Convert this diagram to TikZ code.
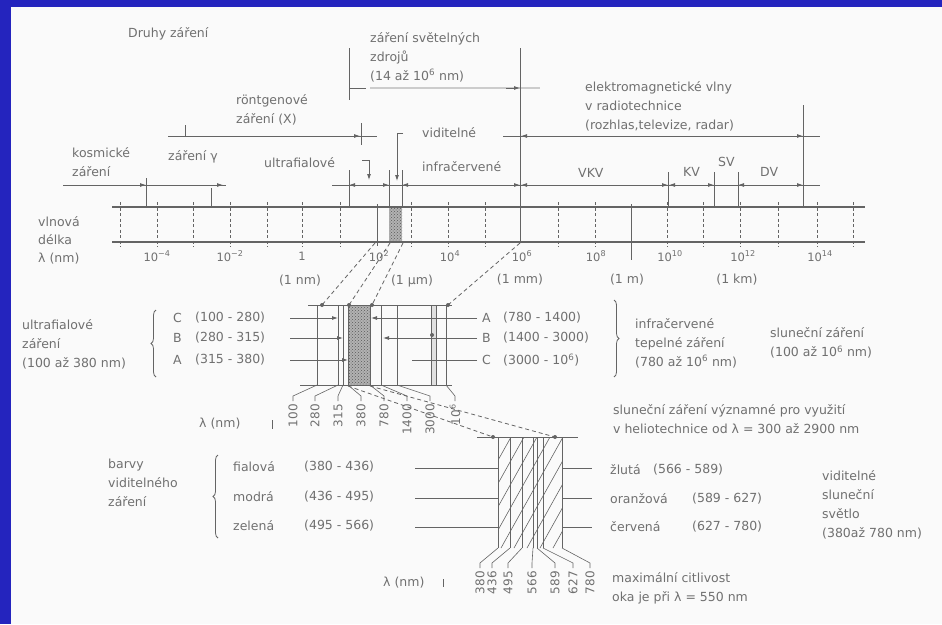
\documentclass[tikz,border=0pt]{standalone}
\usepackage{fontspec}
\setmainfont{DejaVu Sans}
\usetikzlibrary{arrows.meta,decorations.pathreplacing,patterns}
\definecolor{frameblue}{RGB}{36,36,190}
\definecolor{bg}{RGB}{250,250,250}
\definecolor{ink}{RGB}{100,100,100}
\definecolor{txt}{RGB}{112,112,112}
\newcommand{\tp}[1]{\textsuperscript{#1}}
\begin{document}
\begin{tikzpicture}[x=1pt,y=-1pt,
  lbl/.style={font=\fontsize{12.5}{19}\selectfont, text=txt, inner sep=0pt, align=left, anchor=west},
  lblc/.style={lbl, anchor=center, align=center},
  rot/.style={font=\fontsize{12}{14}\selectfont, text=txt, inner sep=0pt, rotate=90, anchor=east},
  ln/.style={draw=ink, line width=0.8pt},
  thin/.style={draw=ink, line width=0.6pt},
  arr/.style={-{Latex[length=6pt,width=4pt]}},
  dsh/.style={draw=ink, line width=0.8pt, dash pattern=on 4pt off 3pt},
  tick/.style={draw=ink, line width=0.6pt, dash pattern=on 3pt off 2.5pt},
  brc/.style={draw=ink, line width=0.8pt, decorate, decoration={brace, amplitude=5pt}}
]
\useasboundingbox (0,0) rectangle (942,624);
\fill[bg] (0,0) rectangle (942,624);
\fill[frameblue] (0,0) rectangle (11,624);
\fill[frameblue] (0,0) rectangle (942,7);

% ---------- titles and range labels ----------
\node[lbl] (title) at (128,34) {Druhy záření};
\node[lbl] (svet) at (370,57) {záření světelných\\zdrojů\\(14 až 10\tp{6} nm)};
\node[lbl] (radio) at (585,106) {elektromagnetické vlny\\v radiotechnice\\(rozhlas,televize, radar)};
\node[lbl] (rtg) at (236,110) {röntgenové\\záření (X)};
\node[lbl] (gama) at (168,157) {záření γ};
\node[lbl] (kosm) at (72,162) {kosmické\\záření};
\node[lbl] (uvt) at (264,163) {ultrafialové};
\node[lbl] (vidt) at (422,133) {viditelné};
\node[lbl] (irt) at (422,167) {infračervené};
\node[lbl] (vkv) at (578,173) {VKV};
\node[lbl] (kv) at (683,172) {KV};
\node[lbl] (sv) at (718,162) {SV};
\node[lbl] (dv) at (760,172) {DV};

% light sources range
\draw[ln] (349,48) -- (349,100);
\draw[ln] (349,88) -- (366,88);
\draw[line width=1.4pt, black!20] (370,88) -- (540,88);
\draw[ln,arr] (506,88) -- (520,88);
% long verticals
\draw[ln] (520,48) -- (520,243);
\draw[ln] (803,105) -- (803,207);
% radio range
\draw[ln] (503,136) -- (820,136);
\draw[ln,arr] (536,136) -- (521,136);
\draw[ln,arr] (788,136) -- (803,136);
% X-ray range
\draw[ln] (168,136) -- (377,136);
\draw[ln] (185,125) -- (185,137);
\draw[ln] (361,123) -- (361,145);
\draw[ln,arr] (345,136) -- (360,136);
% hooks
\draw[ln,arr] (362,160) -- (369,160) -- (369,180);
\draw[ln,arr] (403,133) -- (397,133) -- (397,181);
% main range row
\draw[ln] (63,185) -- (226,185);
\draw[ln] (332,185) -- (820,185);
\foreach \x/\a in {146/178,211/188,349/170,389/170,402/170,668/172,714/172,738/172}
  \draw[ln] (\x,\a) -- (\x,207);
\draw[ln,arr] (130,185) -- (146,185);
\draw[ln,arr] (208,185) -- (223,185);
\draw[ln,arr] (362,185) -- (349,185);
\draw[ln,arr] (376,185) -- (389,185);
\draw[ln,arr] (415,185) -- (402,185);
\draw[ln,arr] (506,185) -- (520,185);
\draw[ln,arr] (534,185) -- (521,185);
\draw[ln,arr] (654,185) -- (668,185);
\draw[ln,arr] (682,185) -- (669,185);
\draw[ln,arr] (700,185) -- (714,185);
\draw[ln,arr] (752,185) -- (738,185);
\draw[ln,arr] (789,185) -- (803,185);

% ---------- wavelength scale ----------
\fill[black!30] (389,207) rectangle (402,242);
\fill[pattern=crosshatch dots, pattern color=black!65] (389,207) rectangle (402,242);
\draw[draw=ink, line width=1.3pt] (112,207) -- (865,207);
\draw[draw=ink, line width=1.3pt] (112,242) -- (865,242);
\foreach \x in {120,157,193,230,267,302,340,411,448,485,558,595,667,703,740,778,817,853}
  \draw[tick] (\x,202) -- (\x,247);
\draw[ln] (377,204) -- (377,246);
\draw[ln] (631,204) -- (631,260);
\foreach \x/\t in {157/10\tp{−4},230/10\tp{−2},302/1,379/10\tp{2},450/10\tp{4},522/10\tp{6},596/10\tp{8},670/10\tp{10},743/10\tp{12},820/10\tp{14}}
  \node[lblc, font=\fontsize{11.5}{14}\selectfont] at (\x,256) {\t};
\node[lblc] (u1) at (300,281) {(1 nm)};
\node[lblc] (u2) at (412,281) {(1 µm)};
\node[lblc] (u3) at (520,280) {(1 mm)};
\node[lblc] (u4) at (627,280) {(1 m)};
\node[lblc] (u5) at (737,280) {(1 km)};
\node[lbl, font=\fontsize{12.5}{18}\selectfont] (vl) at (38,240) {vlnová\\délka\\λ (nm)};

% dashed projections scale -> ladder
\draw[dsh] (375,243) -- (322,305);
\draw[dsh] (390,243) -- (349,305);
\draw[dsh] (403,243) -- (372,305);
\draw[dsh] (520,243) -- (448,305);

% ---------- UV / IR ladder ----------
\fill[black!12] (431,305) rectangle (436,385);
\fill[black!30] (348,305) rectangle (370,385);
\fill[pattern=crosshatch dots, pattern color=black!65] (348,305) rectangle (370,385);
\draw[ln] (308,305) -- (452,305);
\draw[ln] (300,385) -- (452,385);
\foreach \x in {317,338,343,348,370,381,397,431,436,446}
  \draw[ln] (\x,305) -- (\x,385);
\foreach \x/\y in {322/305,349/305,372/305,448/305,432/335}
  \fill[ink] (\x,\y) circle (2pt);
% left UV lines
\draw[ln,arr] (290,318) -- (338,318);
\draw[ln,arr] (290,338) -- (343,338);
\draw[ln,arr] (290,360) -- (348,360);
% right IR lines
\draw[ln,arr] (477,318) -- (371,318);
\draw[ln,arr] (477,338) -- (383,338);
\draw[ln] (477,360) -- (412,360);
% leaders and labels
\foreach \vx/\lx/\t in {317/293/100,338/315/280,343/338/315,348/361/380,370/384/780,381/407/1400,397/430/3000,446/455/10\tp{6}}{
  \draw[thin] (\vx,385) -- (\lx,396) -- (\lx,401);
  \node[rot] at (\lx,404) {\t};
}
\node[lbl] (lam1) at (199,424) {λ (nm)};
\draw[thin] (272,420) -- (272,429);

% UV labels
\node[lbl] (uv) at (22,344) {ultrafialové\\záření\\(100 až 380 nm)};
\draw[brc] (156,377) -- (156,310);
\node[lbl] at (173,318) {C};
\node[lbl] at (173,338) {B};
\node[lbl] at (173,360) {A};
\node[lbl] at (195,318) {(100 - 280)};
\node[lbl] at (195,338) {(280 - 315)};
\node[lbl] at (195,360) {(315 - 380)};
% IR labels
\node[lbl] at (482,318) {A};
\node[lbl] at (482,338) {B};
\node[lbl] at (482,360) {C};
\node[lbl] at (503,318) {(780 - 1400)};
\node[lbl] at (503,338) {(1400 - 3000)};
\node[lbl] at (503,360) {(3000 - 10\tp{6})};
\draw[brc] (614,300) -- (614,377);
\node[lbl] (ir) at (635,343) {infračervené\\tepelné záření\\(780 až 10\tp{6} nm)};
\node[lbl] (sun) at (770,343) {sluneční záření\\(100 až 10\tp{6} nm)};
\node[lbl] (helio) at (613,419) {sluneční záření významné pro využití\\v heliotechnice od λ = 300 až 2900 nm};

% dashed projections ladder -> visible block
\draw[dsh] (348,386) -- (493,437);
\draw[dsh] (370,386) -- (555,437);

% ---------- visible block ----------
\draw[ln] (415,468) -- (592,468);
\draw[ln] (415,498) -- (592,498);
\draw[ln] (415,527) -- (592,527);
\fill[bg] (498,437) rectangle (562,548);
\begin{scope}
  \clip (498,437) rectangle (562,548);
  \foreach \k in {0,...,10}
    \draw[thin] ({436+\k*13},548) -- ++(62,-111);
\end{scope}
\draw[ln] (477,437) -- (578,437);
\foreach \x/\y in {493/437,555/437}
  \fill[ink] (\x,\y) circle (2pt);
\foreach \x in {498,510,522,533,537,543,562}
  \draw[ln] (\x,437) -- (\x,548);
\foreach \vx/\lx/\t in {498/480/380,510/492/436,522/508/495,533/532/566,537/555/589,543/573/627,562/590/780}{
  \draw[thin] (\vx,548) -- (\lx,563) -- (\lx,568);
  \node[rot] at (\lx,571) {\t};
}
\node[lbl] (lam2) at (383,583) {λ (nm)};
\draw[thin] (443,579) -- (443,587);

\node[lbl] (barvy) at (108,483) {barvy\\viditelného\\záření};
\draw[brc] (218,538) -- (218,455);
\node[lbl] at (233,467) {fialová};
\node[lbl] at (233,497) {modrá};
\node[lbl] at (233,526) {zelená};
\node[lbl] at (304,467) {(380 - 436)};
\node[lbl] at (304,497) {(436 - 495)};
\node[lbl] at (304,526) {(495 - 566)};
\node[lbl] at (610,470) {žlutá};
\node[lbl] at (610,499) {oranžová};
\node[lbl] at (610,527) {červená};
\node[lbl] at (653,470) {(566 - 589)};
\node[lbl] at (692,499) {(589 - 627)};
\node[lbl] at (692,527) {(627 - 780)};
\node[lbl] (vsv) at (822,505) {viditelné\\sluneční\\světlo\\(380až 780 nm)};
\node[lbl] (maxc) at (612,588) {maximální citlivost\\oka je při λ = 550 nm};
\end{tikzpicture}
\end{document}
